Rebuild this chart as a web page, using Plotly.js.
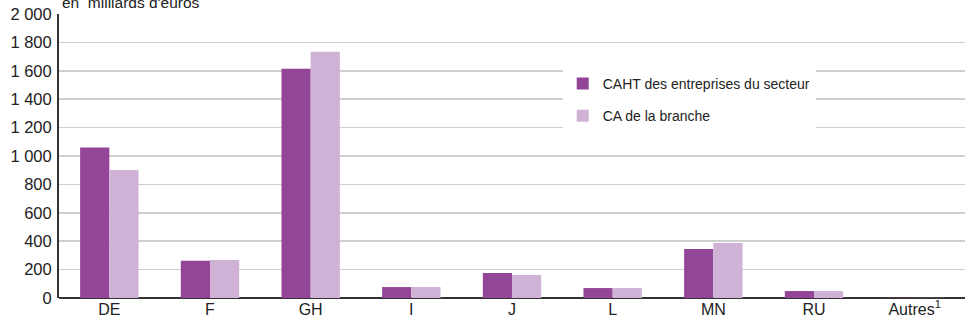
<!DOCTYPE html>
<html><head><meta charset="utf-8">
<script src="https://cdn.plot.ly/plotly-3.0.1.min.js"></script>
<style>html,body{margin:0;padding:0;background:#fff}#chart{width:965px;height:324px}</style>
</head><body><div id="chart"></div>
<script>
var categories = ["DE", "F", "GH", "I", "J", "L", "MN", "RU", "Autres"];
var tickLabels = ["DE", "F", "GH", "I", "J", "L", "MN", "RU", "Autres<sup>1</sup>"];
var cahtSecteur = [1060, 262, 1615, 77, 176, 70, 345, 49, 2];
var caBranche = [902, 268, 1735, 77, 162, 70, 387, 49, 1];
var yTickVals = [0, 200, 400, 600, 800, 1000, 1200, 1400, 1600, 1800, 2000];
var yTickText = ["0", "200", "400", "600", "800", "1 000", "1 200", "1 400", "1 600", "1 800", "2 000"];

var FONT = "Liberation Sans";
var traces = [
  {type: "bar", name: "CAHT des entreprises du secteur", x: categories, y: cahtSecteur,
   legendgroup: "a", marker: {color: "#934598"}},
  {type: "bar", name: "CA de la branche", x: categories, y: caBranche,
   legendgroup: "b", marker: {color: "#cfb2d5"}}
];
var layout = {
  width: 965, height: 324,
  margin: {l: 59, r: 0, t: 14, b: 26},
  paper_bgcolor: "#fff", plot_bgcolor: "#fff",
  barmode: "group", bargap: 0.42, bargroupgap: 0,
  font: {family: FONT, size: 15, color: "#222"},
  showlegend: true,
  legend: {x: 0.556, y: 0.81, xanchor: "left", yanchor: "top", bgcolor: "#fff",
           font: {family: FONT, size: 14, color: "#222"}, itemwidth: 30, tracegroupgap: 11,
           borderwidth: 0},
  xaxis: {type: "category", tickvals: categories, ticktext: tickLabels, showgrid: false,
          showline: false, ticks: "", tickfont: {family: FONT, size: 16, color: "#222"}, fixedrange: true},
  yaxis: {range: [0, 2000], tickvals: yTickVals, ticktext: yTickText, showgrid: true,
          gridcolor: "#cfcfcf", gridwidth: 1.5, zeroline: true, zerolinecolor: "#333", zerolinewidth: 2,
          showline: true, linecolor: "#333", linewidth: 2, ticks: "", ticklabelstandoff: 2,
          tickfont: {family: FONT, size: 16.5, color: "#222"}, fixedrange: true},
  annotations: [{text: "en  milliards d'euros", xref: "paper", yref: "paper", x: 0.001, y: 1,
                 xanchor: "left", yanchor: "bottom", yshift: 1, showarrow: false,
                 font: {family: FONT, size: 15.5, color: "#222"}}]
};
Plotly.newPlot("chart", traces, layout, {displayModeBar: false, staticPlot: true});
</script></body></html>
